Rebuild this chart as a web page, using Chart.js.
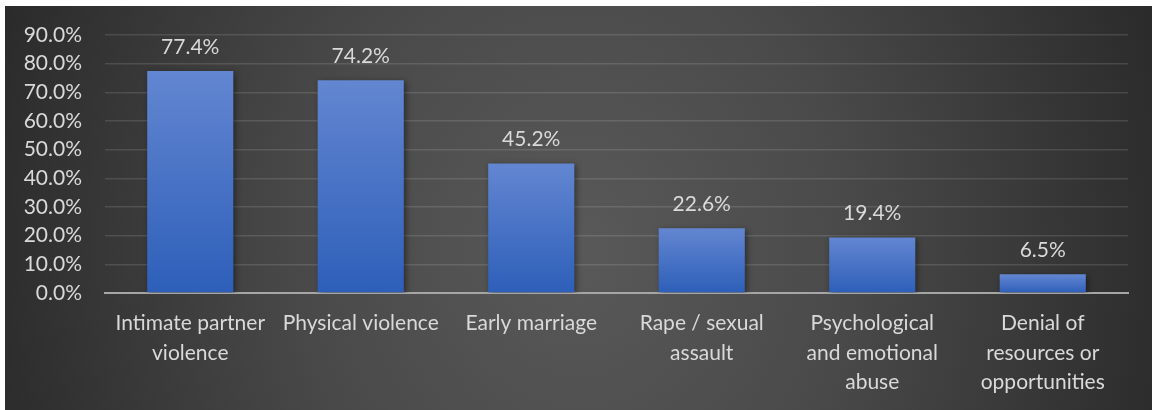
<!DOCTYPE html>
<html>
<head>
<meta charset="utf-8">
<script src="https://cdn.jsdelivr.net/npm/chart.js@4"></script>
<style>
  html, body { margin: 0; padding: 0; background: #fff; }
  #wrap {
    position: absolute; left: 5px; top: 6px; width: 1147px; height: 404px;
    background: radial-gradient(ellipse 660px 760px at 50% 60%, #595959 0%, #4a4a4a 40%, #262626 100%);
  }
</style>
</head>
<body>
<div id="wrap"><canvas id="gbv-chart" width="1147" height="404"></canvas></div>
<script>
const categories = [
  ['Intimate partner', 'violence'],
  'Physical violence',
  'Early marriage',
  ['Rape / sexual', 'assault'],
  ['Psychological', 'and emotional', 'abuse'],
  ['Denial of', 'resources or', 'opportunities']
];
const shares = [77.4, 74.2, 45.2, 22.6, 19.4, 6.5];
const yTicks = [0, 10, 20, 30, 40, 50, 60, 70, 80, 90];

const textColor = '#d9d9d9';
const fontFamily = 'Lato, "Open Sans", sans-serif';

// each bar gets its own top-to-bottom gradient, like the Excel fill
function barFill(context) {
  const chart = context.chart;
  const yScale = chart.scales.y;
  if (!yScale || !chart.chartArea || context.parsed == null) return '#4472c4';
  const top = yScale.getPixelForValue(context.parsed.y);
  const bottom = yScale.getPixelForValue(0);
  if (!isFinite(top) || !isFinite(bottom)) return '#4472c4';
  const g = chart.ctx.createLinearGradient(0, top, 0, bottom);
  g.addColorStop(0, '#6386d1');
  g.addColorStop(1, '#2d5fb9');
  return g;
}

const barShadow = {
  id: 'barShadow',
  beforeDatasetsDraw(chart) {
    const c = chart.ctx;
    c.save();
    c.shadowColor = 'rgba(0,0,0,0.45)';
    c.shadowBlur = 6;
    c.shadowOffsetX = 2;
    c.shadowOffsetY = 2;
  },
  afterDatasetsDraw(chart) {
    chart.ctx.restore();
  }
};

const valueLabels = {
  id: 'valueLabels',
  afterDatasetsDraw(chart) {
    const c = chart.ctx;
    const meta = chart.getDatasetMeta(0);
    c.save();
    c.fillStyle = textColor;
    c.font = '21px ' + fontFamily;
    c.textAlign = 'center';
    c.textBaseline = 'middle';
    meta.data.forEach((bar, i) => {
      c.fillText(shares[i].toFixed(1) + '%', bar.x, bar.y - 24);
    });
    c.restore();
  }
};

const chart = new Chart(document.getElementById('gbv-chart'), {
  type: 'bar',
  data: {
    labels: categories,
    datasets: [{
      data: shares,
      backgroundColor: '#4472c4',
      borderWidth: 0,
      categoryPercentage: 1,
      barPercentage: 0.505
    }]
  },
  options: {
    responsive: false,
    animation: false,
    layout: { padding: { top: 29, right: 24, left: 0, bottom: 0 } },
    plugins: {
      legend: { display: false },
      tooltip: { enabled: false }
    },
    scales: {
      x: {
        grid: { display: false, drawTicks: false },
        border: { color: '#a6a6a6', width: 2 },
        ticks: {
          color: textColor,
          font: { family: fontFamily, size: 21, lineHeight: 1.4 },
          maxRotation: 0,
          autoSkip: false,
          padding: 16
        },
        afterFit(scale) {
          scale.height = 117;
          scale.paddingLeft = 0;
          scale.paddingRight = 0;
        }
      },
      y: {
        min: 0,
        max: 90,
        afterBuildTicks(scale) { scale.ticks = yTicks.map(v => ({ value: v })); },
        grid: { color: 'rgba(255,255,255,0.12)', lineWidth: 1.5, drawTicks: false },
        border: { display: false },
        ticks: {
          color: textColor,
          font: { family: fontFamily, size: 21 },
          padding: 23,
          autoSkip: false,
          callback: v => v.toFixed(1) + '%'
        },
        afterFit(scale) {
          scale.width = 100;
          scale.paddingTop = 0;
          scale.paddingBottom = 0;
        }
      }
    }
  },
  plugins: [barShadow, valueLabels]
});

// now that the scales exist, switch to the per-bar gradient
chart.data.datasets[0].backgroundColor = barFill;
chart.update();
</script>
</body>
</html>
